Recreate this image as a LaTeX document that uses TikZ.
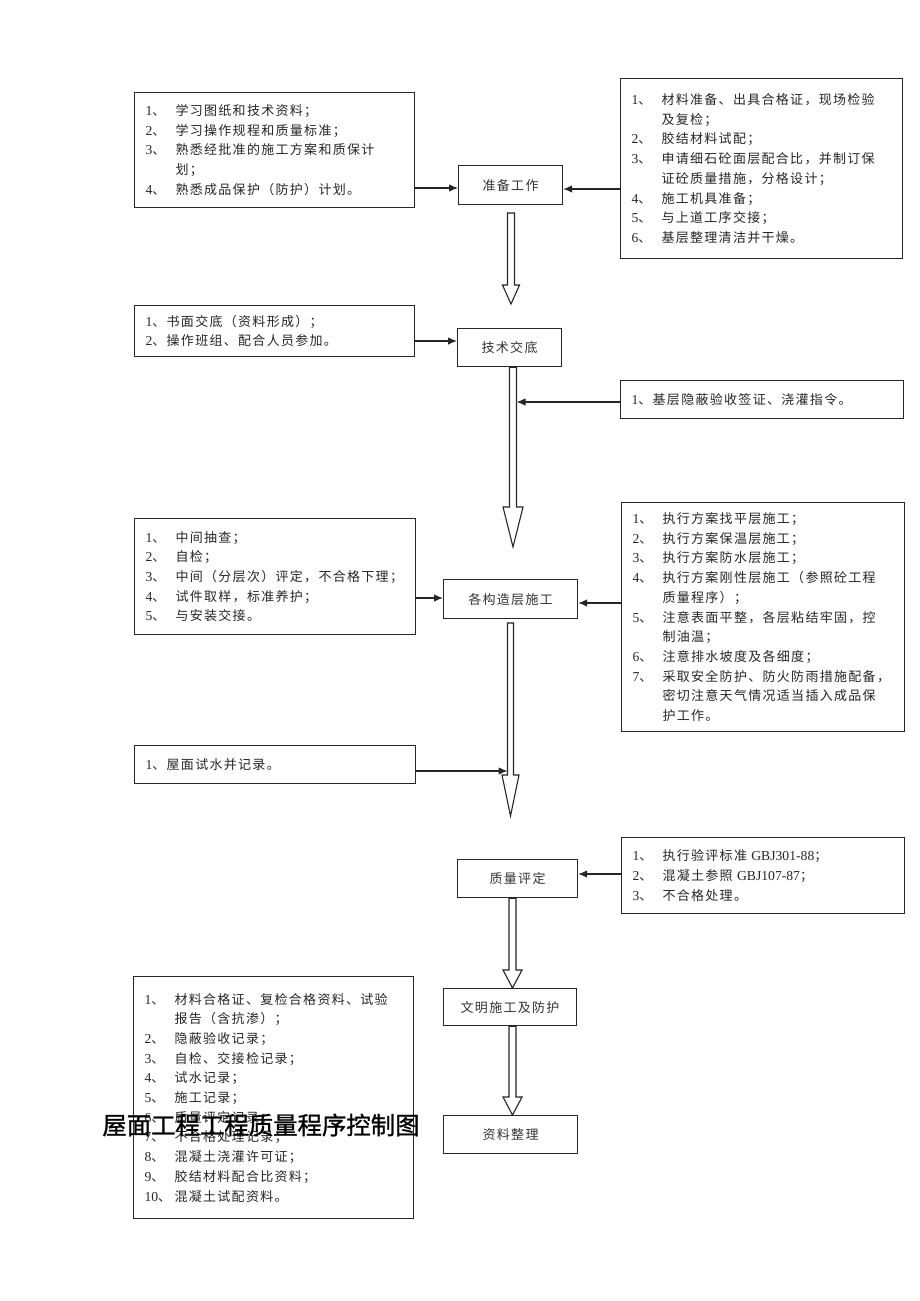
\documentclass[tikz,border=0pt]{standalone}
\usepackage{fontspec}
\setmainfont{Liberation Serif}[Scale=1.05]
\newfontfamily\cjk[LetterSpace=10]{Noto Sans CJK SC}
\newfontfamily\ttlfont[FakeBold=1]{Noto Sans CJK SC}
\usetikzlibrary{arrows.meta,calc}
\newcommand\lat[1]{{\rmfamily #1}}
\newcommand\itm[2]{\mbox{\makebox[30pt][l]{\lat{#1}、}#2}}
\newcommand\itc[1]{\mbox{\hspace*{30pt}#1}}
\newcommand\bodyfont{\fontsize{13}{19.7}\selectfont\cjk}
\newcommand\hollow[5]{% start, tip, head length, shaft half width, head half width
  \draw[harrow] let \p1=(#1), \p2=(#2) in
    (\x1-#4,\y1) -- (\x1-#4,\y2+#3) -- (\x1-#5,\y2+#3) -- (\x2,\y2)
    -- (\x1+#5,\y2+#3) -- (\x1+#4,\y2+#3) -- (\x1+#4,\y1) -- cycle;}
\tikzset{
  listbox/.style={draw=black!85, line width=1.1pt, anchor=north west, align=left,
    inner xsep=11pt, inner ysep=0pt, font=\bodyfont, text=black!85},
  cbox/.style={draw=black!85, line width=1.2pt, anchor=north west, align=center,
    inner sep=0pt, font=\bodyfont, text=black!80},
  conn/.style={draw=black!85, line width=1.1pt, -{Latex[length=9pt,width=7.5pt]}},
  harrow/.style={draw=black!85, line width=1.1pt, fill=white},
}
\begin{document}
\begin{tikzpicture}[x=1pt,y=-1pt]
\useasboundingbox (0,0) rectangle (920,1301);
\fill[white] (0,0) rectangle (920,1301);

% central boxes
\node[cbox, minimum width=104pt, minimum height=39pt] (zb) at (458,165) {准备工作};
\node[cbox, minimum width=104pt, minimum height=38pt] (js) at (457,328) {技术交底};
\node[cbox, minimum width=134pt, minimum height=39pt] (gz) at (443,579) {各构造层施工};
\node[cbox, minimum width=120pt, minimum height=38pt] (zl) at (457,859) {质量评定};
\node[cbox, minimum width=133pt, minimum height=37pt] (wm) at (443,988) {文明施工及防护};
\node[cbox, minimum width=134pt, minimum height=38pt] (zlz) at (443,1115) {资料整理};

% list boxes
\node[listbox, text width=258pt, minimum height=115pt] (l1) at (134,92) {%
\itm{1}{学习图纸和技术资料；}\\
\itm{2}{学习操作规程和质量标准；}\\
\itm{3}{熟悉经批准的施工方案和质保计}\\
\itc{划；}\\
\itm{4}{熟悉成品保护（防护）计划。}};

\node[listbox, text width=260pt, minimum height=180pt] (r1) at (620,78) {%
\itm{1}{材料准备、出具合格证，现场检验}\\
\itc{及复检；}\\
\itm{2}{胶结材料试配；}\\
\itm{3}{申请细石砼面层配合比，并制订保}\\
\itc{证砼质量措施，分格设计；}\\
\itm{4}{施工机具准备；}\\
\itm{5}{与上道工序交接；}\\
\itm{6}{基层整理清洁并干燥。}};

\node[listbox, text width=258pt, minimum height=51pt] (l2) at (134,305) {%
\mbox{\lat{1}、书面交底（资料形成）；}\\
\mbox{\lat{2}、操作班组、配合人员参加。}};

\node[listbox, text width=261pt, minimum height=38pt] (r2) at (620,380) {%
\mbox{\lat{1}、基层隐蔽验收签证、浇灌指令。}};

\node[listbox, text width=259pt, minimum height=116pt] (l3) at (134,518) {%
\itm{1}{中间抽查；}\\
\itm{2}{自检；}\\
\itm{3}{中间（分层次）评定，不合格下理；}\\
\itm{4}{试件取样，标准养护；}\\
\itm{5}{与安装交接。}};

\node[listbox, text width=261pt, minimum height=229pt] (r3) at (621,502) {%
\itm{1}{执行方案找平层施工；}\\
\itm{2}{执行方案保温层施工；}\\
\itm{3}{执行方案防水层施工；}\\
\itm{4}{执行方案刚性层施工（参照砼工程}\\
\itc{质量程序）；}\\
\itm{5}{注意表面平整，各层粘结牢固，控}\\
\itc{制油温；}\\
\itm{6}{注意排水坡度及各细度；}\\
\itm{7}{采取安全防护、防火防雨措施配备，}\\
\itc{密切注意天气情况适当插入成品保}\\
\itc{护工作。}};

\node[listbox, text width=259pt, minimum height=38pt] (l4) at (134,745) {%
\mbox{\lat{1}、屋面试水并记录。}};

\node[listbox, text width=261pt, minimum height=76pt] (r5) at (621,837) {%
\itm{1}{执行验评标准 \lat{GBJ301-88}；}\\
\itm{2}{混凝土参照 \lat{GBJ107-87}；}\\
\itm{3}{不合格处理。}};

\node[listbox, text width=258pt, minimum height=242pt] (l6) at (133,976) {%
\itm{1}{材料合格证、复检合格资料、试验}\\
\itc{报告（含抗渗）；}\\
\itm{2}{隐蔽验收记录；}\\
\itm{3}{自检、交接检记录；}\\
\itm{4}{试水记录；}\\
\itm{5}{施工记录；}\\
\itm{6}{质量评定记录；}\\
\itm{7}{不合格处理记录；}\\
\itm{8}{混凝土浇灌许可证；}\\
\itm{9}{胶结材料配合比资料；}\\
\mbox{\makebox[30pt][l]{\lat{10}、}混凝土试配资料。}};

% hollow arrows
\coordinate (h1s) at (511,213);   \coordinate (h1t) at (511,304);
\coordinate (h2x) at (513,0);     \coordinate (h2t) at (513,547);
\coordinate (h3s) at (510.5,623); \coordinate (h3t) at (510.5,816);
\coordinate (h4x) at (512.5,0);
\coordinate (h5x) at (512.5,0);
\hollow{h1s}{h1t}{19pt}{3.5pt}{8.5pt}
\hollow{h2x |- js.south}{h2t}{40pt}{3.5pt}{10pt}
\hollow{h3s}{h3t}{41pt}{3pt}{8.5pt}
\hollow{h4x |- zl.south}{h4x |- wm.north}{18pt}{3.5pt}{9.5pt}
\hollow{h5x |- wm.south}{h5x |- zlz.north}{18pt}{3.5pt}{9.5pt}

% single-line connectors
\coordinate (a1) at (0,188);
\coordinate (a2) at (0,189);
\coordinate (a3) at (0,341);
\coordinate (s2r) at (516.5,402);
\coordinate (a5) at (0,598);
\coordinate (a6) at (0,603);
\coordinate (s3l) at (507.5,771);
\coordinate (a8) at (0,874);
\draw[conn] (l1.east |- a1) -- (zb.west |- a1);
\draw[conn] (r1.west |- a2) -- (zb.east |- a2);
\draw[conn] (l2.east |- a3) -- (js.west |- a3);
\draw[conn] (r2.west |- s2r) -- (s2r);
\draw[conn] (l3.east |- a5) -- (gz.west |- a5);
\draw[conn] (r3.west |- a6) -- (gz.east |- a6);
\draw[conn] (l4.east |- s3l) -- (s3l);
\draw[conn] (r5.west |- a8) -- (zl.east |- a8);

% overlaid title
\node[font=\fontsize{24.4}{26}\selectfont\ttlfont, inner sep=0pt] (title) at (261,1125) {屋面工程工程质量程序控制图};
\end{tikzpicture}
\end{document}
